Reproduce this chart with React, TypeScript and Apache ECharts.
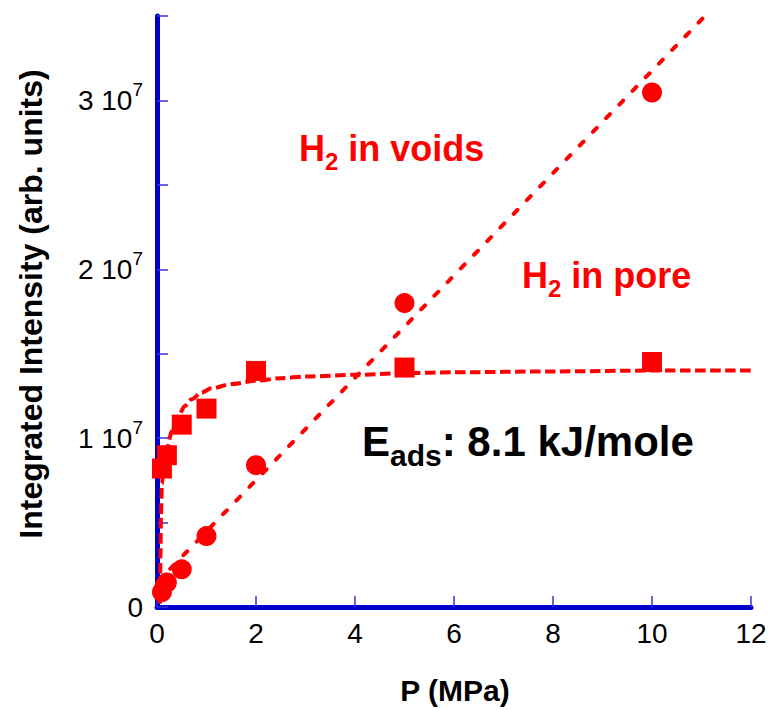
import React, { useEffect, useRef } from "react";
import * as echarts from "echarts";

// ---- data ----
const P_MPA = [0.1, 0.2, 0.5, 1, 2, 5, 10];
const VOIDS_INTENSITY = [0.89e6, 1.45e6, 2.23e6, 4.2e6, 8.4e6, 18.0e6, 30.47e6];
const PORE_INTENSITY = [8.2e6, 8.99e6, 10.8e6, 11.75e6, 13.98e6, 14.18e6, 14.51e6];

const VOIDS_FIT_P = [0, 11.07];
const VOIDS_FIT_I = [1.45e6, 35.0e6];

const PORE_FIT_P = [0.06, 0.07, 0.08, 0.1, 0.14, 0.2, 0.3, 0.43, 0.56, 0.7, 0.9, 1.1, 1.5, 2, 2.5, 3, 4, 5, 6, 8, 10, 12];
const PORE_FIT_I = [0.2e6, 3.0e6, 5.5e6, 7.3e6, 8.5e6, 9.4e6, 10.4e6, 11.3e6, 11.9e6, 12.3e6, 12.7e6, 12.95e6, 13.2e6, 13.4e6, 13.55e6, 13.65e6, 13.75e6, 13.85e6, 13.9e6, 13.95e6, 14.0e6, 14.0e6];

const X_MIN = 0;
const X_MAX = 12;
const X_STEP = 2;
const Y_MIN = 0;
const Y_MAX = 3.5e7;
const Y_STEP = 5e6;
const Y_LABEL_EXPONENT = 7;

const X_TITLE = "P (MPa)";
const Y_TITLE = "Integrated Intensity (arb. units)";

const FAMILY = '"Liberation Sans", Arial, Helvetica, sans-serif';
const RED = "#ff0000";
const AXIS_BLUE = "#0000cc";
const TICK_BLUE = "#3333dd";

type Part = [string, number, number];

function textRun(x0: number, baseline: number, parts: Part[], color: string) {
  const ctx = document.createElement("canvas").getContext("2d")!;
  const els: any[] = [];
  let x = x0;
  for (const [raw, size, dy] of parts) {
    ctx.font = `bold ${size}px ${FAMILY}`;
    const trimmed = raw.replace(/^\s+/, "");
    const lead = raw.length - trimmed.length;
    if (lead > 0) x += ctx.measureText(" ".repeat(lead)).width;
    els.push({
      type: "text",
      x,
      y: baseline + dy - 0.3465 * size,
      z: 100,
      style: {
        text: trimmed,
        fill: color,
        fontSize: size,
        fontWeight: "bold",
        fontFamily: FAMILY,
        align: "left",
        verticalAlign: "middle",
      },
    });
    x += ctx.measureText(trimmed).width;
  }
  return els;
}

export default function App() {
  const ref = useRef<HTMLDivElement>(null);

  useEffect(() => {
    if (!ref.current) return;
    const chart = echarts.init(ref.current, undefined, { renderer: "svg" });

    const graphics = [
      ...textRun(299, 161, [["H", 36, 0], ["2", 24, 9], [" in voids", 36, 0]], RED),
      ...textRun(522, 288, [["H", 36, 0], ["2", 24, 9], [" in pore", 36, 0]], RED),
      ...textRun(362, 456, [["E", 42, 0], ["ads", 30, 10], [": 8.1 kJ/mole", 42, 0]], "#000000"),
      {
        type: "text",
        x: 31,
        y: 304,
        rotation: Math.PI / 2,
        style: {
          text: Y_TITLE,
          fill: "#000",
          fontSize: 32,
          fontWeight: "bold",
          fontFamily: FAMILY,
          align: "center",
          verticalAlign: "middle",
        },
      },
      {
        type: "text",
        x: 455,
        y: 690,
        style: {
          text: X_TITLE,
          fill: "#000",
          fontSize: 30,
          fontWeight: "bold",
          fontFamily: FAMILY,
          align: "center",
          verticalAlign: "middle",
        },
      },
    ];

    chart.setOption({
      animation: false,
      backgroundColor: "#ffffff",
      grid: {
        left: 157,
        right: 17,
        top: 16,
        bottom: 103,
        containLabel: false,
        outerBoundsMode: "none",
      },
      xAxis: {
        type: "value",
        min: X_MIN,
        max: X_MAX,
        interval: X_STEP,
        axisLine: { show: true, onZero: false, lineStyle: { color: AXIS_BLUE, width: 5 } },
        axisTick: { show: true, inside: true, length: 11, lineStyle: { color: TICK_BLUE, width: 1.5 } },
        splitLine: { show: false },
        axisLabel: {
          color: "#000",
          fontSize: 28,
          fontFamily: FAMILY,
          margin: 12,
          showMinLabel: true,
          showMaxLabel: true,
        },
      },
      yAxis: {
        type: "value",
        min: Y_MIN,
        max: Y_MAX,
        interval: Y_STEP,
        axisLine: { show: true, onZero: false, lineStyle: { color: AXIS_BLUE, width: 5 } },
        axisTick: { show: true, inside: true, length: 11, lineStyle: { color: TICK_BLUE, width: 1.5 } },
        splitLine: { show: false },
        axisLabel: {
          margin: 14,
          showMinLabel: true,
          showMaxLabel: true,
          formatter: (v: number) => {
            if (v % 1e7 !== 0) return "";
            const m = Math.round(v / Math.pow(10, Y_LABEL_EXPONENT));
            if (m === 0) return "{a|0}";
            return `{a|${m} 10}{s|${Y_LABEL_EXPONENT}}`;
          },
          rich: {
            a: { fontSize: 28, lineHeight: 40, fontFamily: FAMILY, color: "#000" },
            s: { fontSize: 19, lineHeight: 22, fontFamily: FAMILY, color: "#000", verticalAlign: "top" },
          },
        },
      },
      series: [
        {
          name: "voids fit",
          type: "line",
          data: VOIDS_FIT_P.map((p, i) => [p, VOIDS_FIT_I[i]]),
          symbol: "none",
          clip: true,
          lineStyle: { color: RED, width: 4, type: [5.5, 13.5], cap: "round" },
          z: 2,
        },
        {
          name: "pore fit",
          type: "line",
          data: PORE_FIT_P.map((p, i) => [p, PORE_FIT_I[i]]),
          symbol: "none",
          smooth: 0.3,
          smoothMonotone: "x",
          clip: true,
          lineStyle: { color: RED, width: 4, type: [10.5, 4.5], cap: "butt" },
          z: 2,
        },
        {
          name: "H2 in voids",
          type: "scatter",
          data: P_MPA.map((p, i) => [p, VOIDS_INTENSITY[i]]),
          symbol: "circle",
          symbolSize: 20,
          itemStyle: { color: RED, opacity: 1 },
          z: 5,
        },
        {
          name: "H2 in pore",
          type: "scatter",
          data: P_MPA.map((p, i) => [p, PORE_INTENSITY[i]]),
          symbol: "rect",
          symbolSize: 20,
          itemStyle: { color: RED, opacity: 1 },
          z: 5,
        },
      ],
      graphic: graphics,
    });

    return () => chart.dispose();
  }, []);

  return (
    <div
      ref={ref}
      style={{ position: "fixed", left: 0, top: 0, width: 768, height: 710, background: "#fff" }}
    />
  );
}
